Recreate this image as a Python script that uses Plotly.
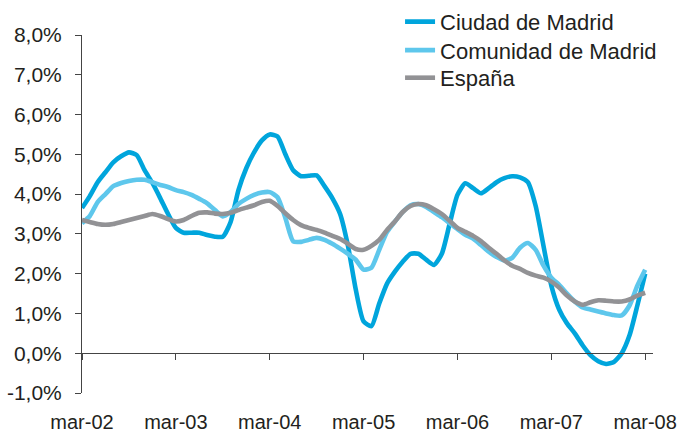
import plotly.graph_objects as go

months = list(range(73))  # months since mar-02

ciudad = [3.65, 3.95, 4.30, 4.55, 4.80, 4.95, 5.05, 4.98, 4.60, 4.28,
          3.90, 3.50, 3.15, 3.03, 3.03, 3.03, 2.97, 2.93, 2.93, 3.30,
          4.10, 4.65, 5.05, 5.35, 5.50, 5.45, 5.00, 4.60, 4.45, 4.46,
          4.47, 4.20, 3.90, 3.50, 2.70, 1.60, 0.80, 0.68, 1.25, 1.75,
          2.05, 2.30, 2.50, 2.50, 2.35, 2.22, 2.50, 3.25, 3.98, 4.27,
          4.15, 4.02, 4.15, 4.30, 4.40, 4.45, 4.42, 4.30, 3.70, 2.70,
          1.70, 1.10, 0.75, 0.50, 0.20, -0.05, -0.20, -0.27, -0.22, 0.00,
          0.45, 1.20, 2.00]

comunidad = [3.27, 3.45, 3.80, 4.00, 4.20, 4.28, 4.33, 4.36, 4.36, 4.30,
             4.23, 4.18, 4.10, 4.05, 3.98, 3.88, 3.77, 3.60, 3.44, 3.55,
             3.75, 3.88, 3.98, 4.04, 4.05, 3.92, 3.40, 2.81, 2.80, 2.85,
             2.90, 2.85, 2.75, 2.63, 2.50, 2.35, 2.10, 2.15, 2.60, 3.05,
             3.31, 3.55, 3.72, 3.75, 3.68, 3.55, 3.42, 3.27, 3.12, 2.98,
             2.88, 2.72, 2.55, 2.42, 2.33, 2.40, 2.65, 2.77, 2.60, 2.20,
             1.90, 1.72, 1.50, 1.30, 1.15, 1.10, 1.05, 1.00, 0.96, 0.95,
             1.20, 1.70, 2.10]

espana = [3.35, 3.30, 3.25, 3.23, 3.25, 3.30, 3.35, 3.40, 3.45, 3.50,
          3.45, 3.37, 3.31, 3.35, 3.45, 3.53, 3.54, 3.51, 3.50, 3.53,
          3.60, 3.66, 3.72, 3.80, 3.83, 3.70, 3.52, 3.35, 3.22, 3.15,
          3.10, 3.03, 2.95, 2.87, 2.75, 2.62, 2.60, 2.70, 2.85, 3.10,
          3.31, 3.55, 3.70, 3.75, 3.72, 3.62, 3.50, 3.33, 3.15, 3.05,
          2.95, 2.82, 2.65, 2.50, 2.33, 2.20, 2.12, 2.02, 1.95, 1.90,
          1.80, 1.65, 1.45, 1.30, 1.22, 1.28, 1.33, 1.32, 1.30, 1.30,
          1.35, 1.45, 1.52]

x_tickvals = [0, 12, 24, 36, 48, 60, 72]
x_ticktext = ["mar-02", "mar-03", "mar-04", "mar-05", "mar-06", "mar-07", "mar-08"]
y_tickvals = [-1, 0, 1, 2, 3, 4, 5, 6, 7, 8]
y_ticktext = ["-1,0%", "0,0%", "1,0%", "2,0%", "3,0%", "4,0%", "5,0%", "6,0%", "7,0%", "8,0%"]

series = [
    ("Ciudad de Madrid", ciudad, "#00a5dc", "legend"),
    ("Comunidad de Madrid", comunidad, "#5ec7ec", "legend2"),
    ("España", espana, "#929295", "legend3"),
]

fig = go.Figure()
for name, vals, color, leg in series:
    fig.add_trace(go.Scatter(
        x=months, y=vals, name=name, mode="lines", legend=leg,
        line=dict(color=color, width=4.6, shape="spline", smoothing=0.6),
    ))

font_family = "Liberation Sans, Arial, sans-serif"
axis_color = "#444444"


def legend_at(ypaper):
    return dict(
        x=0.557, y=ypaper, xanchor="left", yanchor="middle",
        font=dict(size=22, family=font_family, color="#231f20"),
        bgcolor="rgba(0,0,0,0)", borderwidth=0,
    )


fig.update_layout(
    width=682, height=432,
    margin=dict(l=82, r=29, t=35, b=39, autoexpand=False),
    paper_bgcolor="white", plot_bgcolor="white",
    font=dict(family=font_family, color="#231f20"),
    showlegend=True,
    legend=legend_at(1.0369),
    legend2=legend_at(0.9573),
    legend3=legend_at(0.8802),
    xaxis=dict(
        range=[0, 73], anchor="free", position=1/9,
        showline=True, linecolor=axis_color, linewidth=1,
        ticks="outside", ticklen=6, tickwidth=1, tickcolor=axis_color,
        tickvals=x_tickvals, ticktext=x_ticktext,
        tickfont=dict(size=20, family=font_family, color="#231f20"),
        ticklabelstandoff=45, automargin=False,
        showgrid=False, zeroline=False, fixedrange=True,
    ),
    yaxis=dict(
        range=[-1, 8],
        showline=True, linecolor=axis_color, linewidth=1,
        ticks="outside", ticklen=6, tickwidth=1, tickcolor=axis_color,
        tickvals=y_tickvals, ticktext=y_ticktext,
        tickfont=dict(size=21, family=font_family, color="#231f20"),
        ticklabelstandoff=9, automargin=False,
        showgrid=False, zeroline=False, fixedrange=True,
    ),
)

fig.write_html(
    "out.html",
    config={"displayModeBar": False},
    post_script="document.body.style.margin='0';document.body.style.overflow='hidden';",
)
